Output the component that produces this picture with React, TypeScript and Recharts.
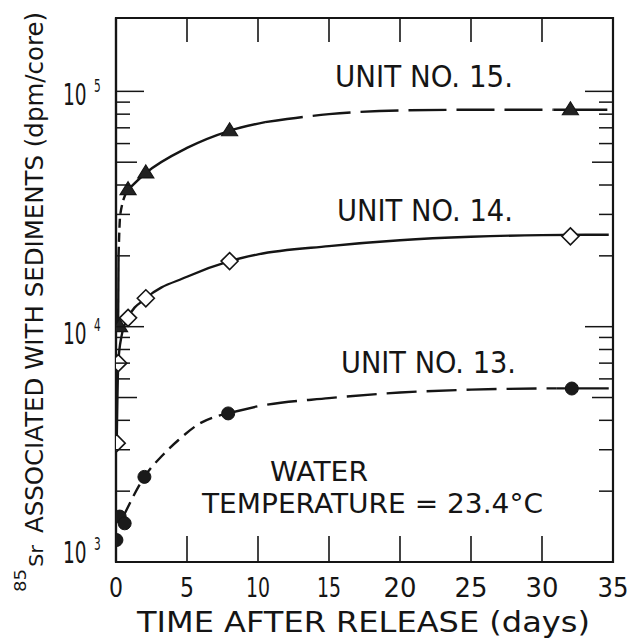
import React from 'react';
import { ComposedChart, Line, Scatter, XAxis, YAxis, ReferenceArea } from 'recharts';

// ---- axis ticks ----
const xTicks = [0, 5, 10, 15, 20, 25, 30, 35];
const yTicks = [
  1000, 2000, 3000, 4000, 5000, 6000, 7000, 8000, 9000,
  10000, 20000, 30000, 40000, 50000, 60000, 70000, 80000, 90000,
  100000,
];

// ---- measured points (markers) ----
const unit15Days = [0.25, 0.85, 2.1, 8, 32];
const unit15Values = [10000, 38200, 45000, 68000, 83500];
const unit14Days = [0.05, 0.16, 0.85, 2.1, 8, 32];
const unit14Values = [3200, 7000, 10900, 13200, 19000, 24200];
const unit13Days = [0.03, 0.26, 0.61, 2.0, 7.9, 32.1];
const unit13Values = [1240, 1560, 1460, 2300, 4280, 5460];

// ---- drawn curves ----
const curve15Days = [0.15, 0.18, 0.3, 0.85, 2.1, 5, 8, 10.5, 15, 20, 25, 30.8, 34.6];
const curve15Values = [10000, 20000, 30000, 38200, 45000, 57500, 68000, 74000, 80000, 83000, 83500, 83500, 83500];
const curve14Days = [0.05, 0.16, 0.38, 0.85, 2.1, 5, 8, 10, 15, 20, 25, 30, 34.7];
const curve14Values = [3200, 7000, 9050, 10900, 13200, 16300, 19000, 20300, 22000, 23300, 24100, 24500, 24600];
const curve13Days = [0.6, 2.0, 3.3, 4.4, 5.9, 7.9, 10, 15, 20, 25, 31, 34.7];
const curve13Values = [1600, 2300, 2850, 3300, 3880, 4280, 4590, 4970, 5250, 5400, 5470, 5470];

const W = 642;
const H = 642;
const PLOT_LEFT = 116;
const PLOT_RIGHT = 613;
const PLOT_TOP = 18;
const PLOT_BOTTOM = 562;
const INK = '#151515';
const FONT = '"DejaVu Sans", sans-serif';

const rows = (xs: number[], ys: number[]) => xs.map((x, i) => ({ x, y: ys[i] }));

type Seg = { from: number; to: number; dash?: string };
const seg15: Seg[] = [
  { from: 0, to: 1 },
  { from: 1, to: 3, dash: '9 5' },
  { from: 3, to: 7 },
  { from: 7, to: 11, dash: '38 10' },
  { from: 11, to: 12 },
];
const seg14: Seg[] = [{ from: 0, to: 12 }];
const seg13: Seg[] = [
  { from: 0, to: 5, dash: '13 7' },
  { from: 5, to: 10, dash: '30 10' },
  { from: 10, to: 11 },
];

const xLabelWidth: Record<number, number> = { 0: 14, 5: 14, 10: 24, 15: 24, 20: 33, 25: 33, 30: 33, 35: 31 };

const XTick = (props: any) => {
  const { x, y, payload } = props;
  const v = payload.value as number;
  const inner = v !== 0 && v !== 35;
  return (
    <g>
      {inner && <line x1={x} x2={x} y1={y} y2={y - 26} stroke={INK} strokeWidth={1.6} />}
      {inner && <line x1={x} x2={x} y1={PLOT_TOP} y2={PLOT_TOP + 24} stroke={INK} strokeWidth={1.6} />}
      <text
        x={x}
        y={y + 35}
        textAnchor="middle"
        fontFamily={FONT}
        fontSize={27}
        fill={INK}
        textLength={xLabelWidth[v]}
        lengthAdjust="spacingAndGlyphs"
      >
        {String(v)}
      </text>
    </g>
  );
};

const labelBaseOffset: Record<number, number> = { 3: 1, 4: 17, 5: 14 };
const SX = 0.62;

const YTick = (props: any) => {
  const { x, y, payload } = props;
  const v = payload.value as number;
  const exp = Math.floor(Math.log10(v) + 1e-9);
  const mant = Math.round(v / Math.pow(10, exp));
  const len = mant === 1 ? 28 : mant === 5 ? 21 : 14;
  const base = y + (labelBaseOffset[exp] ?? 10);
  return (
    <g>
      {v !== 1000 && <line x1={x} x2={x + len} y1={y} y2={y} stroke={INK} strokeWidth={1.5} />}
      {v !== 1000 && (
        <line x1={PLOT_RIGHT} x2={PLOT_RIGHT - len} y1={y} y2={y} stroke={INK} strokeWidth={1.5} />
      )}
      {mant === 1 && (
        <g transform={`translate(63,${base}) scale(${SX},1)`}>
          <text x={0} y={0} fontFamily={FONT} fontSize={30} fill={INK}>
            10
            <tspan dx={12} dy={-13} fontSize={17}>
              {String(exp)}
            </tspan>
          </text>
        </g>
      )}
    </g>
  );
};

const Triangle = (props: any) => {
  const { cx, cy } = props;
  if (cx == null || cy == null) return null;
  const s = 8;
  return (
    <polygon
      points={`${cx},${cy - s} ${cx + s},${cy + s * 0.62} ${cx - s},${cy + s * 0.62}`}
      fill="#222"
      stroke={INK}
      strokeWidth={1.2}
    />
  );
};
const Diamond = (props: any) => {
  const { cx, cy } = props;
  if (cx == null || cy == null) return null;
  const s = 8.5;
  return (
    <polygon
      points={`${cx},${cy - s} ${cx + s},${cy} ${cx},${cy + s} ${cx - s},${cy}`}
      fill="#fff"
      stroke={INK}
      strokeWidth={1.6}
    />
  );
};
const Dot = (props: any) => {
  const { cx, cy } = props;
  if (cx == null || cy == null) return null;
  return <circle cx={cx} cy={cy} r={6.5} fill="#1a1a1a" stroke={INK} strokeWidth={1} />;
};

const renderSegments = (key: string, xs: number[], ys: number[], segs: Seg[]) => {
  const all = rows(xs, ys);
  return segs.map((s, i) => (
    <Line
      key={`${key}-${i}`}
      data={all.slice(s.from, s.to + 1)}
      dataKey="y"
      type="monotone"
      stroke={INK}
      strokeWidth={2.4}
      strokeDasharray={s.dash}
      dot={false}
      activeDot={false}
      isAnimationActive={false}
      legendType="none"
    />
  ));
};

const T = (p: {
  x: number;
  y: number;
  len: number;
  size: number;
  children: React.ReactNode;
  rotate?: boolean;
}) => (
  <text
    x={p.rotate ? 0 : p.x}
    y={p.rotate ? 0 : p.y}
    transform={p.rotate ? `translate(${p.x},${p.y}) rotate(-90)` : undefined}
    fontFamily={FONT}
    fontSize={p.size}
    fill={INK}
    textLength={p.len}
    lengthAdjust="spacingAndGlyphs"
  >
    {p.children}
  </text>
);

export default function App() {
  return (
    <div style={{ position: 'absolute', left: 0, top: 0, width: W, height: H, background: '#fff' }}>
      <ComposedChart
        width={W}
        height={H}
        margin={{ top: PLOT_TOP, right: W - PLOT_RIGHT, bottom: 0, left: 0 }}
      >
        <XAxis
          type="number"
          dataKey="x"
          domain={[0, 35]}
          ticks={xTicks}
          interval={0}
          height={H - PLOT_BOTTOM}
          tickSize={0}
          tickMargin={0}
          tickLine={false}
          axisLine={{ stroke: INK, strokeWidth: 2.2 }}
          tick={<XTick />}
          allowDataOverflow
        />
        <YAxis
          type="number"
          scale="log"
          domain={[1000, 205000]}
          ticks={yTicks}
          interval={0}
          width={PLOT_LEFT}
          tickSize={0}
          tickMargin={0}
          tickLine={false}
          axisLine={{ stroke: INK, strokeWidth: 2.2 }}
          tick={<YTick />}
          allowDataOverflow
        />
        <ReferenceArea
          x1={0}
          x2={35}
          y1={1000}
          y2={205000}
          fill="none"
          fillOpacity={0}
          stroke={INK}
          strokeWidth={2.2}
          ifOverflow="visible"
        />
        {renderSegments('c15', curve15Days, curve15Values, seg15)}
        {renderSegments('c14', curve14Days, curve14Values, seg14)}
        {renderSegments('c13', curve13Days, curve13Values, seg13)}
        <Scatter data={rows(unit15Days, unit15Values)} dataKey="y" shape={<Triangle />} isAnimationActive={false} legendType="none" />
        <Scatter data={rows(unit14Days, unit14Values)} dataKey="y" shape={<Diamond />} isAnimationActive={false} legendType="none" />
        <Scatter data={rows(unit13Days, unit13Values)} dataKey="y" shape={<Dot />} isAnimationActive={false} legendType="none" />
      </ComposedChart>
      <svg width={W} height={H} style={{ position: 'absolute', left: 0, top: 0, pointerEvents: 'none' }}>
        <T x={335} y={87} len={178} size={31}>UNIT NO. 15.</T>
        <T x={337} y={221} len={176} size={31}>UNIT NO. 14.</T>
        <T x={341} y={373} len={175} size={31}>UNIT NO. 13.</T>
        <T x={270} y={481} len={98} size={27}>WATER</T>
        <T x={202} y={513} len={341} size={27}>TEMPERATURE = 23.4°C</T>
        <T x={137} y={632} len={453} size={29}>TIME AFTER RELEASE (days)</T>
        <T x={26} y={592} len={23} size={15} rotate>85</T>
        <T x={43} y={567} len={22} size={19} rotate>Sr</T>
        <T x={43} y={533} len={521} size={25} rotate>ASSOCIATED WITH SEDIMENTS (dpm/core)</T>
      </svg>
    </div>
  );
}
